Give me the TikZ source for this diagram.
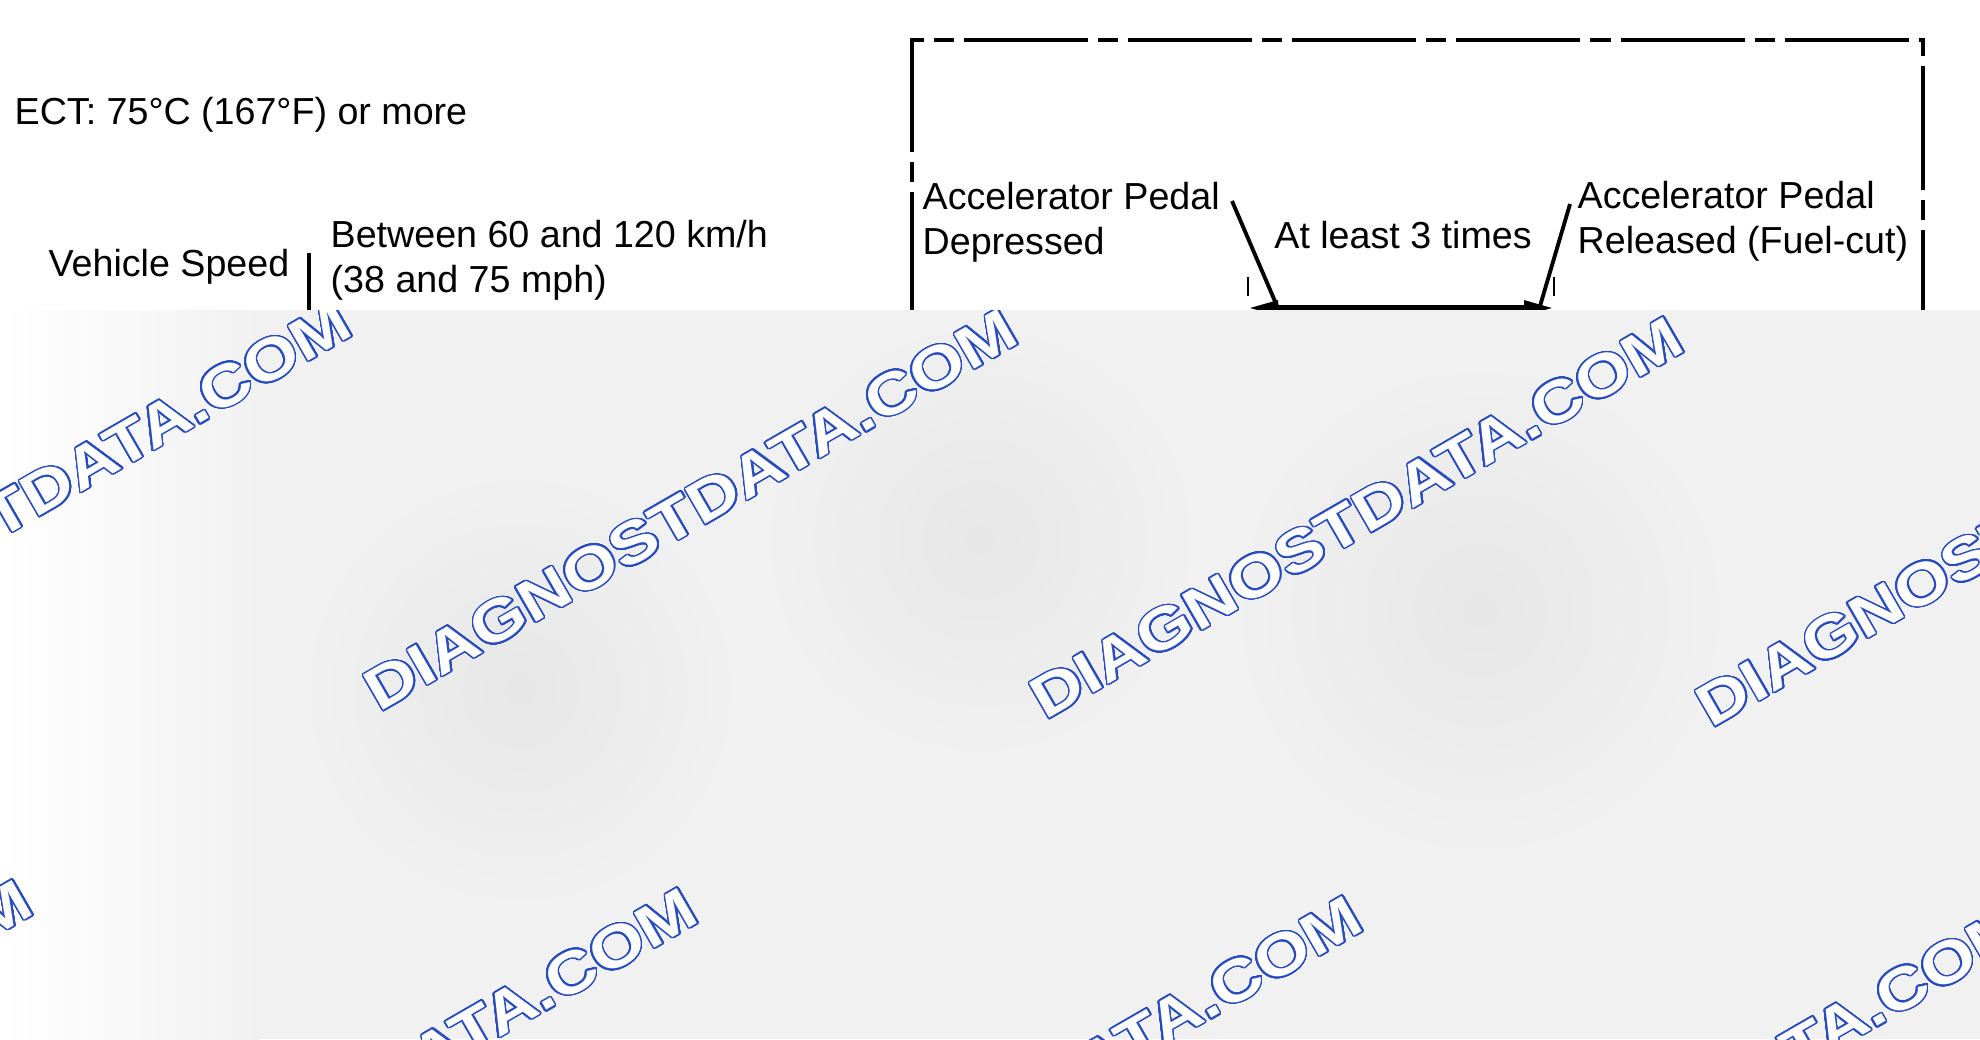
\documentclass[tikz,border=0pt]{standalone}
\usepackage{fontspec}
\setmainfont{Liberation Sans}
\usepackage{contour}
\usetikzlibrary{arrows.meta}

\contourlength{0.4pt}
\contournumber{32}

\begin{document}
\begin{tikzpicture}[x=0.01cm, y=-0.01cm,
  condtext/.style={inner sep=0pt, anchor=base west, align=left, font=\fontsize{10.7}{12.6}\selectfont},
  boxline/.style={line width=1.1pt, dash pattern=on 1.24cm off 0.1cm on 0.2cm off 0.1cm},
  sepline/.style={line width=1.1pt},
  leader/.style={line width=1.1pt},
  extline/.style={line width=0.8pt},
  dimarrow/.style={line width=1.6pt, {Triangle[length=3mm,width=1.4mm]}-{Triangle[length=3mm,width=1.4mm]}},
  wmtext/.style={inner sep=0pt, anchor=base west, rotate=30, xscale=1.2, text=white, font=\fontsize{16.7}{20}\selectfont\bfseries}]

%─────────────
% Controls
%─────────────
\def\cutline{310}  % top edge of the grey band
\definecolor{wmblue}{RGB}{40,75,190}
\definecolor{wmback}{gray}{0.945}
\definecolor{wmshade}{gray}{0.905}

\useasboundingbox (0,0) rectangle (1980,1039);

%─────────────
% Driving conditions
%─────────────
\node[condtext] (ect) at (14,124) {ECT: 75°C (167°F) or more};
\node[condtext] (speedlabel) at (48,276) {Vehicle Speed};
\node[condtext] (speedrange) at (330,292) {Between 60 and 120 km/h\\(38 and 75 mph)};  % base = last line
\coordinate (speedsep) at (309,253);
\draw[sepline] (speedsep) -- ++(0,80);

%─────────────
% Pedal box
%─────────────
\coordinate (boxstart) at (912,152);
\coordinate (boxTL) at (912,40);
\coordinate (boxTR) at (1923,40);
\coordinate (boxBR) at (1923,1000);
\coordinate (boxBL) at (912,1000);
\draw[boxline] (boxstart) -- (boxTL) -- (boxTR) -- (boxBR);
\draw[boxline, dash phase=1.24cm] (boxstart) -- (boxBL);

\node[condtext] (pedaldown) at (922,254) {Accelerator Pedal\\Depressed};
\node[condtext] (pedalup) at (1577,253) {Accelerator Pedal\\Released (Fuel-cut)};
\node[condtext, anchor=base] (times) at (1403,248) {At least 3 times};

% span between the two pedal events
\coordinate (dimL) at (1248,308);
\coordinate (dimR) at (1554,308);
\draw[extline] (dimL) ++(0,-31) -- ++(0,19);
\draw[extline] (dimR) ++(0,-31) -- ++(0,19);
\draw[dimarrow] (dimL) -- (dimR);

% leader lines from the labels
\coordinate (downtip) at (1232,201);
\coordinate (uptip) at (1570,204);
\coordinate (downfoot) at (1277,306);
\coordinate (upfoot) at (1540,306);
\draw[leader] (downtip) -- (downfoot);
\draw[leader] (uptip) -- (upfoot);

%─────────────
% Grey band with watermark
%─────────────
\newcommand{\drawWatermark}[3]{%
  \node[wmtext] (#1) at (#2,#3) {\contour{wmblue}{DIAGNOSTDATA.COM}};
}

\fill[wmback] (0,\cutline) rectangle (1980,1039);
\begin{scope}
  \clip (0,\cutline) rectangle (1980,1039);
  \shade[left color=white, right color=wmback] (0,\cutline) rectangle (260,1039);
  \shade[inner color=wmshade, outer color=wmback] (520,690) circle (220);
  \shade[inner color=wmshade, outer color=wmback] (980,540) circle (220);
  \shade[inner color=wmshade, outer color=wmback] (1480,610) circle (250);

  % row 1
  \drawWatermark{wma}{-287}{705}
  \drawWatermark{wmb}{379}{713}
  \drawWatermark{wmc}{1045}{721}
  \drawWatermark{wmd}{1711}{729}
  % row 2
  \drawWatermark{wme}{-606}{1284}
  \drawWatermark{wmf}{59}{1292}
  \drawWatermark{wmg}{724}{1300}
  \drawWatermark{wmh}{1390}{1308}
\end{scope}

\end{tikzpicture}
\end{document}
